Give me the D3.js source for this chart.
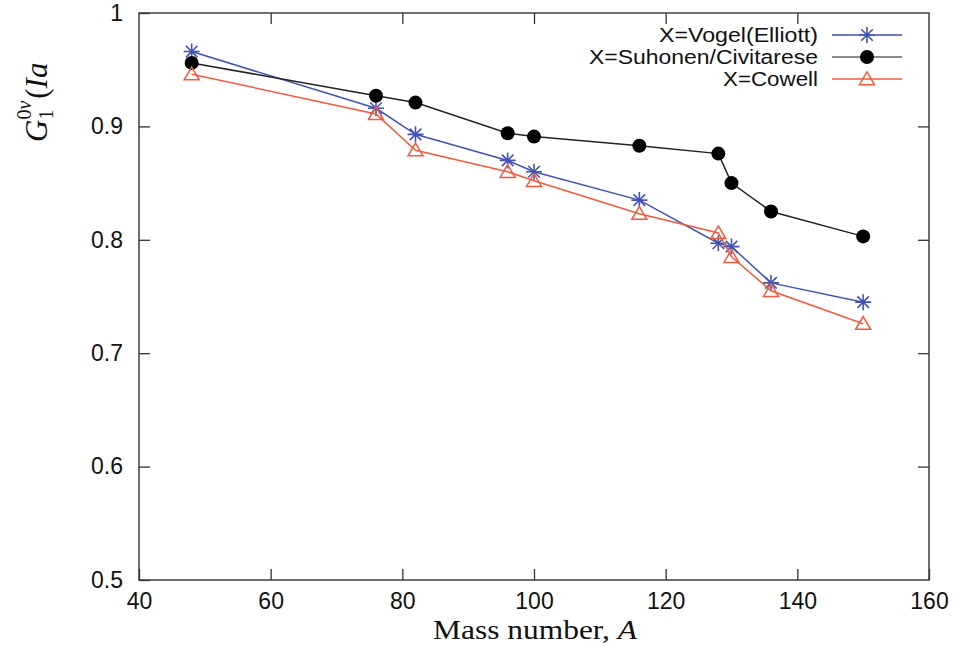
<!DOCTYPE html>
<html>
<head>
<meta charset="utf-8">
<script src="https://cdn.jsdelivr.net/npm/d3@7"></script>
<style>
  html, body { margin: 0; padding: 0; background: #fff; }
  svg { display: block; }
</style>
</head>
<body>
<svg id="chart" width="958" height="646"></svg>
<script>
// Mass numbers of the double-beta-decay nuclei
const massNumbers = [48, 76, 82, 96, 100, 116, 128, 130, 136, 150];

// G_1^{0nu} ratios for each set of parameters
const vogelElliott      = [0.966, 0.916, 0.893, 0.870, 0.860, 0.835, 0.797, 0.794, 0.762, 0.745];
const suhonenCivitarese = [0.956, 0.927, 0.921, 0.894, 0.891, 0.883, 0.876, 0.850, 0.825, 0.803];
const cowell            = [0.946, 0.911, 0.879, 0.860, 0.852, 0.823, 0.806, 0.785, 0.755, 0.726];

const seriesNames = ["X=Vogel(Elliott)", "X=Suhonen/Civitarese", "X=Cowell"];

const xTicks = [40, 60, 80, 100, 120, 140, 160];
const yTicks = [0.5, 0.6, 0.7, 0.8, 0.9, 1.0];

const svg = d3.select("#chart");
const margin = { left: 139, right: 29, top: 13, bottom: 66 };
const W = 958, H = 646;

const x = d3.scaleLinear().domain([40, 160]).range([margin.left, W - margin.right]);
const y = d3.scaleLinear().domain([0.5, 1.0]).range([H - margin.bottom, margin.top]);

const axisColor = "#333";
const tickLen = 11;

// Frame
svg.append("rect")
  .attr("x", x(40)).attr("y", y(1))
  .attr("width", x(160) - x(40)).attr("height", y(0.5) - y(1))
  .attr("fill", "none").attr("stroke", axisColor).attr("stroke-width", 1.4);

// Axes with inward ticks on all four sides
const tickFont = "'Liberation Sans', Arial, sans-serif";
function styleAxis(g) {
  g.select(".domain").remove();
  g.selectAll(".tick line").attr("stroke", axisColor).attr("stroke-width", 1.3);
  g.selectAll(".tick text").attr("font-family", tickFont).attr("font-size", 23).attr("fill", "#111");
}
const fmtY = d => (d === 1 ? "1" : d3.format(".1f")(d));

svg.append("g").attr("transform", `translate(0,${y(0.5)})`)
  .call(d3.axisBottom(x).tickValues(xTicks).tickSize(-tickLen).tickPadding(13).tickFormat(d3.format("d")))
  .call(styleAxis);
svg.append("g").attr("transform", `translate(0,${y(1)})`)
  .call(d3.axisTop(x).tickValues(xTicks.slice(1, -1)).tickSize(-tickLen).tickFormat(""))
  .call(styleAxis);
svg.append("g").attr("transform", `translate(${x(40)},0)`)
  .call(d3.axisLeft(y).tickValues(yTicks).tickSize(-tickLen).tickPadding(16).tickFormat(fmtY))
  .call(styleAxis);
svg.append("g").attr("transform", `translate(${x(160)},0)`)
  .call(d3.axisRight(y).tickValues(yTicks.slice(1, -1)).tickSize(-tickLen).tickFormat(""))
  .call(styleAxis);

// Axis titles
svg.append("text")
  .attr("x", 535).attr("y", 639)
  .attr("text-anchor", "middle")
  .attr("font-family", "'Liberation Serif', 'Times New Roman', serif")
  .attr("font-size", 28).attr("fill", "#111")
  .attr("textLength", 204).attr("lengthAdjust", "spacingAndGlyphs")
  .html('Mass number, <tspan font-style="italic">A</tspan>');

const yTitle = svg.append("text")
  .attr("transform", "translate(47,142) rotate(-90)")
  .attr("font-family", "'Liberation Serif', 'Times New Roman', serif")
  .attr("font-size", 31).attr("fill", "#111");
yTitle.append("tspan").attr("font-style", "italic").attr("textLength", 25).text("G");
yTitle.append("tspan").attr("font-size", 20).attr("dy", 6).text("1");
yTitle.append("tspan").attr("font-size", 20).attr("dx", -10).attr("dy", -22).text("0");
yTitle.append("tspan").attr("font-size", 20).attr("font-style", "italic").text("ν");
yTitle.append("tspan").attr("dx", 2).attr("dy", 16).text("(");
yTitle.append("tspan").attr("font-style", "italic").text("Ia");

// Series definitions
const series = [
  { name: seriesNames[0], values: vogelElliott, color: "#4253b4", marker: "star" },
  { name: seriesNames[1], values: suhonenCivitarese, color: "#222", marker: "circle" },
  { name: seriesNames[2], values: cowell, color: "#f25a3e", marker: "triangle" }
];

const line = d3.line().x(d => x(d[0])).y(d => y(d[1]));

function drawMarker(g, kind, color) {
  if (kind === "star") {
    const s = 8;
    const d = `M${-s},0L${s},0M0,${-s}L0,${s}M${-s*0.72},${-s*0.72}L${s*0.72},${s*0.72}M${-s*0.72},${s*0.72}L${s*0.72},${-s*0.72}`;
    g.append("path").attr("d", d).attr("stroke", color).attr("stroke-width", 1.6).attr("fill", "none");
  } else if (kind === "circle") {
    g.append("circle").attr("r", 7).attr("fill", "#000");
  } else {
    const s = 7.5;
    g.append("path")
      .attr("d", `M0,${-s * 0.95}L${s},${s * 0.75}L${-s},${s * 0.75}Z`)
      .attr("fill", "none").attr("stroke", color).attr("stroke-width", 1.5);
  }
}

series.forEach(sr => {
  const pts = massNumbers.map((a, i) => [a, sr.values[i]]);
  svg.append("path").datum(pts).attr("d", line)
    .attr("fill", "none").attr("stroke", sr.color).attr("stroke-width", 1.5);
  pts.forEach(p => {
    const g = svg.append("g").attr("transform", `translate(${x(p[0])},${y(p[1])})`);
    drawMarker(g, sr.marker, sr.color);
  });
});

// Legend: tightly stacked rows, text right-aligned before the sample line
const legend = svg.append("g");
const legendRows = [35, 57, 79];
const legendTextWidths = [159, 229, 95];
series.forEach((sr, i) => {
  const ly = legendRows[i];
  legend.append("text")
    .attr("x", 818).attr("y", ly + 7)
    .attr("text-anchor", "end")
    .attr("font-family", tickFont).attr("font-size", 20.5).attr("fill", "#111")
    .attr("textLength", legendTextWidths[i]).attr("lengthAdjust", "spacingAndGlyphs")
    .text(sr.name);
  legend.append("line")
    .attr("x1", 832).attr("x2", 902).attr("y1", ly).attr("y2", ly)
    .attr("stroke", i === 1 ? "#666" : sr.color).attr("stroke-width", 1.5);
  const g = legend.append("g").attr("transform", `translate(867,${ly})`);
  drawMarker(g, sr.marker, sr.color);
});
</script>
</body>
</html>
